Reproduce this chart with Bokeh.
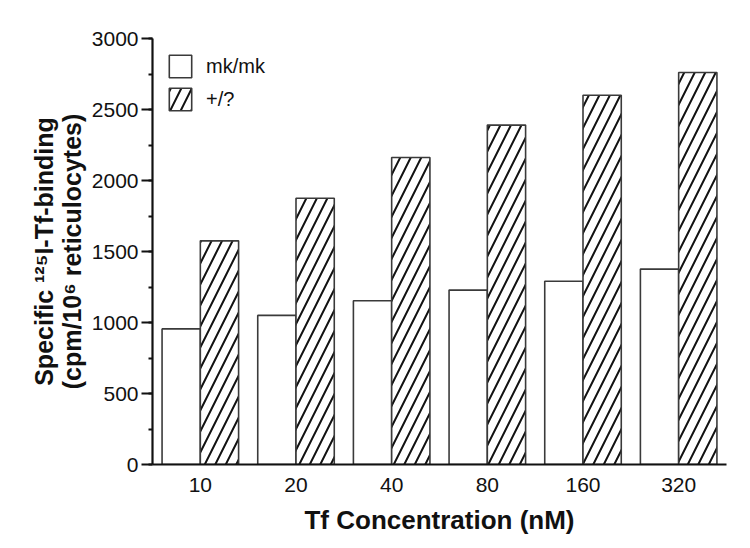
from bokeh.plotting import figure
from bokeh.models import FactorRange, SingleIntervalTicker, Legend, LegendItem, ColumnDataSource
from bokeh.transform import dodge
from bokeh.embed import file_html
from bokeh.resources import INLINE

# Data
concentrations = ["10", "20", "40", "80", "160", "320"]
mk_mk = [955, 1050, 1153, 1228, 1290, 1376]
wild = [1575, 1875, 2162, 2390, 2600, 2761]
series_labels = ["mk/mk", "+/?"]
y_ticks_interval = 500

FONT = "Liberation Sans"

src = ColumnDataSource(dict(conc=concentrations, mk=mk_mk, wt=wild))

p = figure(
    width=742, height=540,
    x_range=FactorRange(factors=concentrations, range_padding=0),
    y_range=(0, 3000),
    output_backend="svg", toolbar_location=None,
    min_border_left=152, min_border_right=16, min_border_top=38, min_border_bottom=76,
)
p.outline_line_color = None
p.xgrid.grid_line_color = None
p.ygrid.grid_line_color = None
p.background_fill_color = "white"

r1 = p.vbar(x=dodge("conc", -0.2, range=p.x_range), top="mk", width=0.4, source=src,
            fill_color="white", line_color="#3a3a3a", line_width=1.6)
r2 = p.vbar(x=dodge("conc", 0.2, range=p.x_range), top="wt", width=0.4, source=src,
            fill_color="white", line_color="#3a3a3a", line_width=1.6,
            hatch_pattern="/", hatch_color="#111111", hatch_weight=2, hatch_scale=21)

# Axes
yax = p.yaxis[0]
yax.ticker = SingleIntervalTicker(interval=y_ticks_interval, num_minor_ticks=2)
yax.axis_line_width = 2.2
yax.axis_line_color = "#111111"
yax.major_tick_line_width = 2
yax.major_tick_line_color = "#111111"
yax.major_tick_out = 11
yax.major_tick_in = 0
yax.minor_tick_line_width = 2
yax.minor_tick_line_color = "#111111"
yax.minor_tick_out = 4
yax.minor_tick_in = 0
yax.major_label_text_font = FONT
yax.major_label_text_font_size = "21px"
yax.major_label_text_color = "#111111"
yax.major_label_standoff = 3
yax.axis_label = "Specific \u00b9\u00b2\u2075I-Tf-binding\n(cpm/10\u2076 reticulocytes)"
yax.axis_label_text_font = FONT
yax.axis_label_text_font_style = "bold"
yax.axis_label_text_font_size = "25px"
yax.axis_label_text_line_height = 1.0
yax.axis_label_text_color = "#111111"
yax.axis_label_standoff = 3

xax = p.xaxis[0]
xax.axis_line_width = 2.2
xax.axis_line_color = "#111111"
xax.major_tick_out = 0
xax.major_tick_in = 0
xax.minor_tick_line_color = None
xax.major_label_text_font = FONT
xax.major_label_text_font_size = "21px"
xax.major_label_text_color = "#111111"
xax.major_label_standoff = 13
xax.axis_label = "Tf Concentration (nM)"
xax.axis_label_text_font = FONT
xax.axis_label_text_font_style = "bold"
xax.axis_label_text_font_size = "26px"
xax.axis_label_text_color = "#111111"
xax.axis_label_standoff = 10

legend = Legend(
    items=[LegendItem(label=series_labels[0], renderers=[r1]),
           LegendItem(label=series_labels[1], renderers=[r2])],
    location="top_left",
    margin=14, padding=10, spacing=5,
    glyph_width=28, glyph_height=28, label_height=28,
    label_standoff=12,
    label_text_font=FONT, label_text_font_size="20px", label_text_color="#111111",
    border_line_color=None, background_fill_alpha=0,
)
p.add_layout(legend)

open("out.html", "w").write(file_html(p, INLINE))
